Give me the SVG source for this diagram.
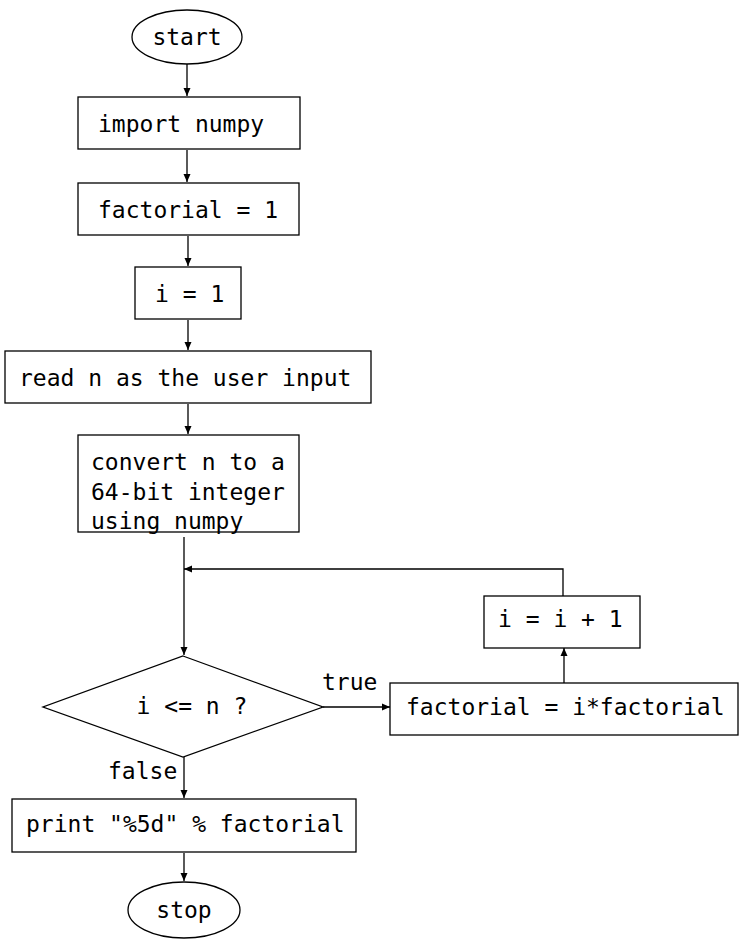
<svg xmlns="http://www.w3.org/2000/svg" width="748" height="944" viewBox="0 0 748 944">
<style>
.s{fill:#fff;stroke:#000;stroke-width:1.3}
.t{font-family:"DejaVu Sans Mono","Liberation Mono",monospace;font-size:23px;fill:#000}
.c{fill:none;stroke:#000;stroke-width:1.3}
</style>
<defs>
<marker id="a" markerWidth="8" markerHeight="8" refX="8" refY="4" orient="auto" markerUnits="userSpaceOnUse">
<path d="M0,0.5 L8,4 L0,7.5 Z" fill="#000"/>
</marker>
</defs>
<rect width="748" height="944" fill="#fff"/>
<g id="connectors">
<line class="c" x1="187" y1="64" x2="187" y2="96" marker-end="url(#a)"/>
<line class="c" x1="187" y1="150" x2="187" y2="182" marker-end="url(#a)"/>
<line class="c" x1="188" y1="236" x2="188" y2="266" marker-end="url(#a)"/>
<line class="c" x1="188" y1="320" x2="188" y2="350" marker-end="url(#a)"/>
<line class="c" x1="188" y1="404" x2="188" y2="434" marker-end="url(#a)"/>
<line class="c" x1="184" y1="537" x2="184" y2="655" marker-end="url(#a)"/>
<line class="c" x1="323" y1="707" x2="390" y2="707" marker-end="url(#a)"/>
<line class="c" x1="564" y1="683" x2="564" y2="648" marker-end="url(#a)"/>
<polyline class="c" points="563,596 563,569 184,569" marker-end="url(#a)"/>
<line class="c" x1="184" y1="757" x2="184" y2="798" marker-end="url(#a)"/>
<line class="c" x1="184" y1="853" x2="184" y2="881" marker-end="url(#a)"/>
<text class="t" x="322" y="690">true</text>
<text class="t" x="108" y="779">false</text>
</g>
<g id="start"><ellipse class="s" cx="187" cy="37" rx="55" ry="27"/><text class="t" x="187" y="45" text-anchor="middle">start</text></g>
<g id="import"><rect class="s" x="78" y="97" width="222" height="52"/><text class="t" x="98" y="132">import numpy</text></g>
<g id="fact1"><rect class="s" x="78" y="183" width="221" height="52"/><text class="t" x="98" y="218">factorial = 1</text></g>
<g id="i1"><rect class="s" x="135" y="267" width="106" height="52"/><text class="t" x="155" y="302">i = 1</text></g>
<g id="read"><rect class="s" x="5" y="351" width="366" height="52"/><text class="t" x="19" y="386">read n as the user input</text></g>
<g id="convert"><rect class="s" x="78" y="435" width="221" height="97"/><text class="t" x="91" y="470">convert n to a</text><text class="t" x="91" y="500">64-bit integer</text><text class="t" x="91" y="529">using numpy</text></g>
<g id="cond"><polygon class="s" points="183,656 323,707 183,757 43,707"/><text class="t" x="192" y="714" text-anchor="middle">i &lt;= n ?</text></g>
<g id="factmul"><rect class="s" x="390" y="683" width="348" height="52"/><text class="t" x="406" y="715">factorial = i*factorial</text></g>
<g id="inc"><rect class="s" x="484" y="596" width="156" height="52"/><text class="t" x="498" y="627">i = i + 1</text></g>
<g id="print"><rect class="s" x="12" y="799" width="344" height="53"/><text class="t" x="26" y="832">print "%5d" % factorial</text></g>
<g id="stop"><ellipse class="s" cx="184" cy="910" rx="56" ry="28"/><text class="t" x="184" y="918" text-anchor="middle">stop</text></g>
</svg>
